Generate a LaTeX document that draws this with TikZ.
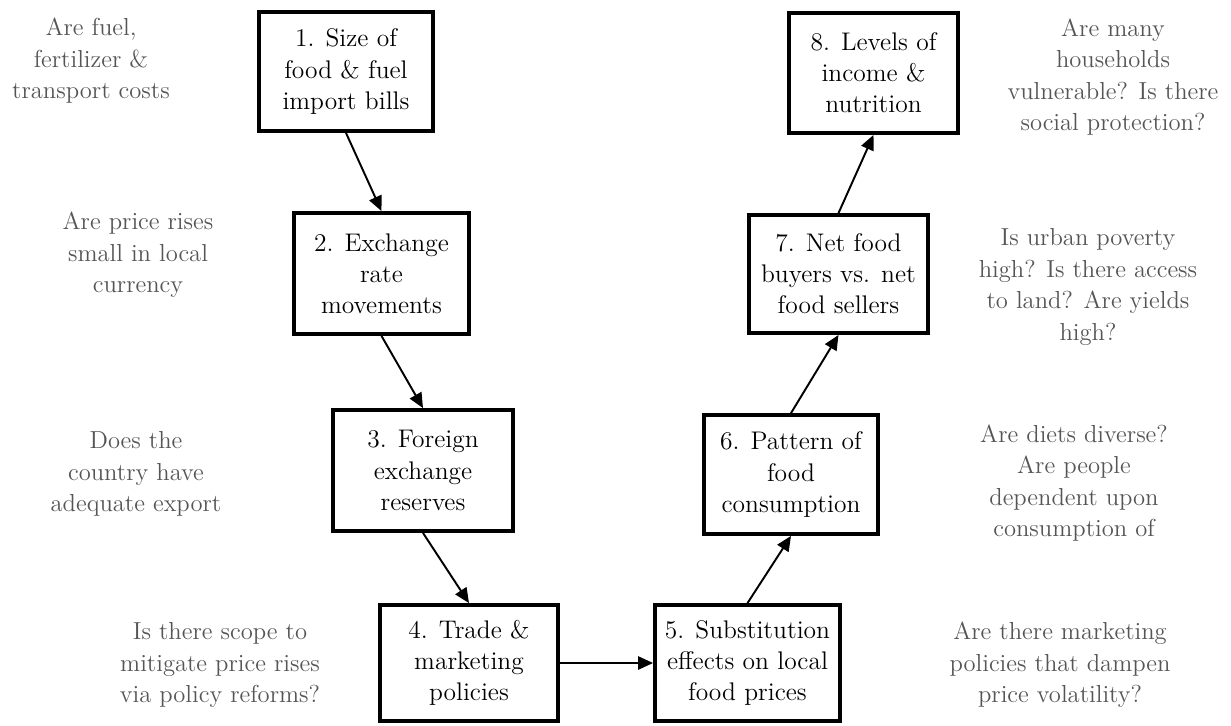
\documentclass[tikz,border=0pt]{standalone}
\usepackage{tikz}
\usetikzlibrary{arrows.meta}
\definecolor{askgray}{HTML}{555555}

\begin{document}
\begin{tikzpicture}[x=0.02cm,y=-0.02cm,
    box/.style={draw,line width=2.2pt,align=center,inner sep=0pt,
        font=\fontsize{14.5}{17.7}\selectfont},
    ask/.style={align=center,text=askgray,inner sep=0pt,
        font=\fontsize{14}{17.9}\selectfont},
    flow/.style={line width=1.1pt,-{Triangle[length=8.5pt,width=7.5pt]}}]
    \useasboundingbox (0,0) rectangle (1231,725);

    \node[box,minimum width=3.48cm,minimum height=2.38cm] (b1) at (346,71.5)
        {1. Size of\\food \& fuel\\import bills};
    \node[box,minimum width=3.50cm,minimum height=2.42cm] (b2) at (381.5,273.5)
        {2. Exchange\\rate\\movements};
    \node[box,minimum width=3.60cm,minimum height=2.42cm] (b3) at (423,470.5)
        {3. Foreign\\exchange\\reserves};
    \node[box,minimum width=3.56cm,minimum height=2.32cm] (b4) at (469,663)
        {4. Trade \&\\marketing\\policies};
    \node[box,minimum width=3.70cm,minimum height=2.32cm] (b5) at (747.5,663)
        {5. Substitution\\effects on local\\food prices};
    \node[box,minimum width=3.48cm,minimum height=2.38cm] (b6) at (791,474.5)
        {6. Pattern of\\food\\consumption};
    \node[box,minimum width=3.58cm,minimum height=2.36cm] (b7) at (838.5,274)
        {7. Net food\\buyers vs. net\\food sellers};
    \node[box,minimum width=3.38cm,minimum height=2.40cm] (b8) at (873.5,73)
        {8. Levels of\\income \&\\nutrition};

    \draw[flow] (b1.south) -- (b2.north);
    \draw[flow] (b2.south) -- (b3.north);
    \draw[flow] (b3.south) -- (b4.north);
    \draw[flow] (b4.east) -- (b5.west);
    \draw[flow] (b5.north) -- (b6.south);
    \draw[flow] (b6.north) -- (b7.south);
    \draw[flow] (b7.north) -- (b8.south);

    \node[ask] (q1) at (91,61) {Are fuel,\\fertilizer \&\\transport costs};
    \node[ask] (q2) at (138,255) {Are price rises\\small in local\\currency};
    \node[ask] (q3) at (136,474) {Does the\\country have\\adequate export};
    \node[ask] (q4) at (220,665) {Is there scope to\\mitigate price rises\\via policy reforms?};
    \node[ask] (q5) at (1060,665) {Are there marketing\\policies that dampen\\price volatility?};
    \node[ask] (q6) at (1074,483) {Are diets diverse?\\Are people\\dependent upon\\consumption of};
    \node[ask] (q7) at (1088,287) {Is urban poverty\\high? Is there access\\to land? Are yields\\high?};
    \node[ask] (q8) at (1113,77) {Are many\\households\\vulnerable? Is there\\social protection?};
\end{tikzpicture}
\end{document}
